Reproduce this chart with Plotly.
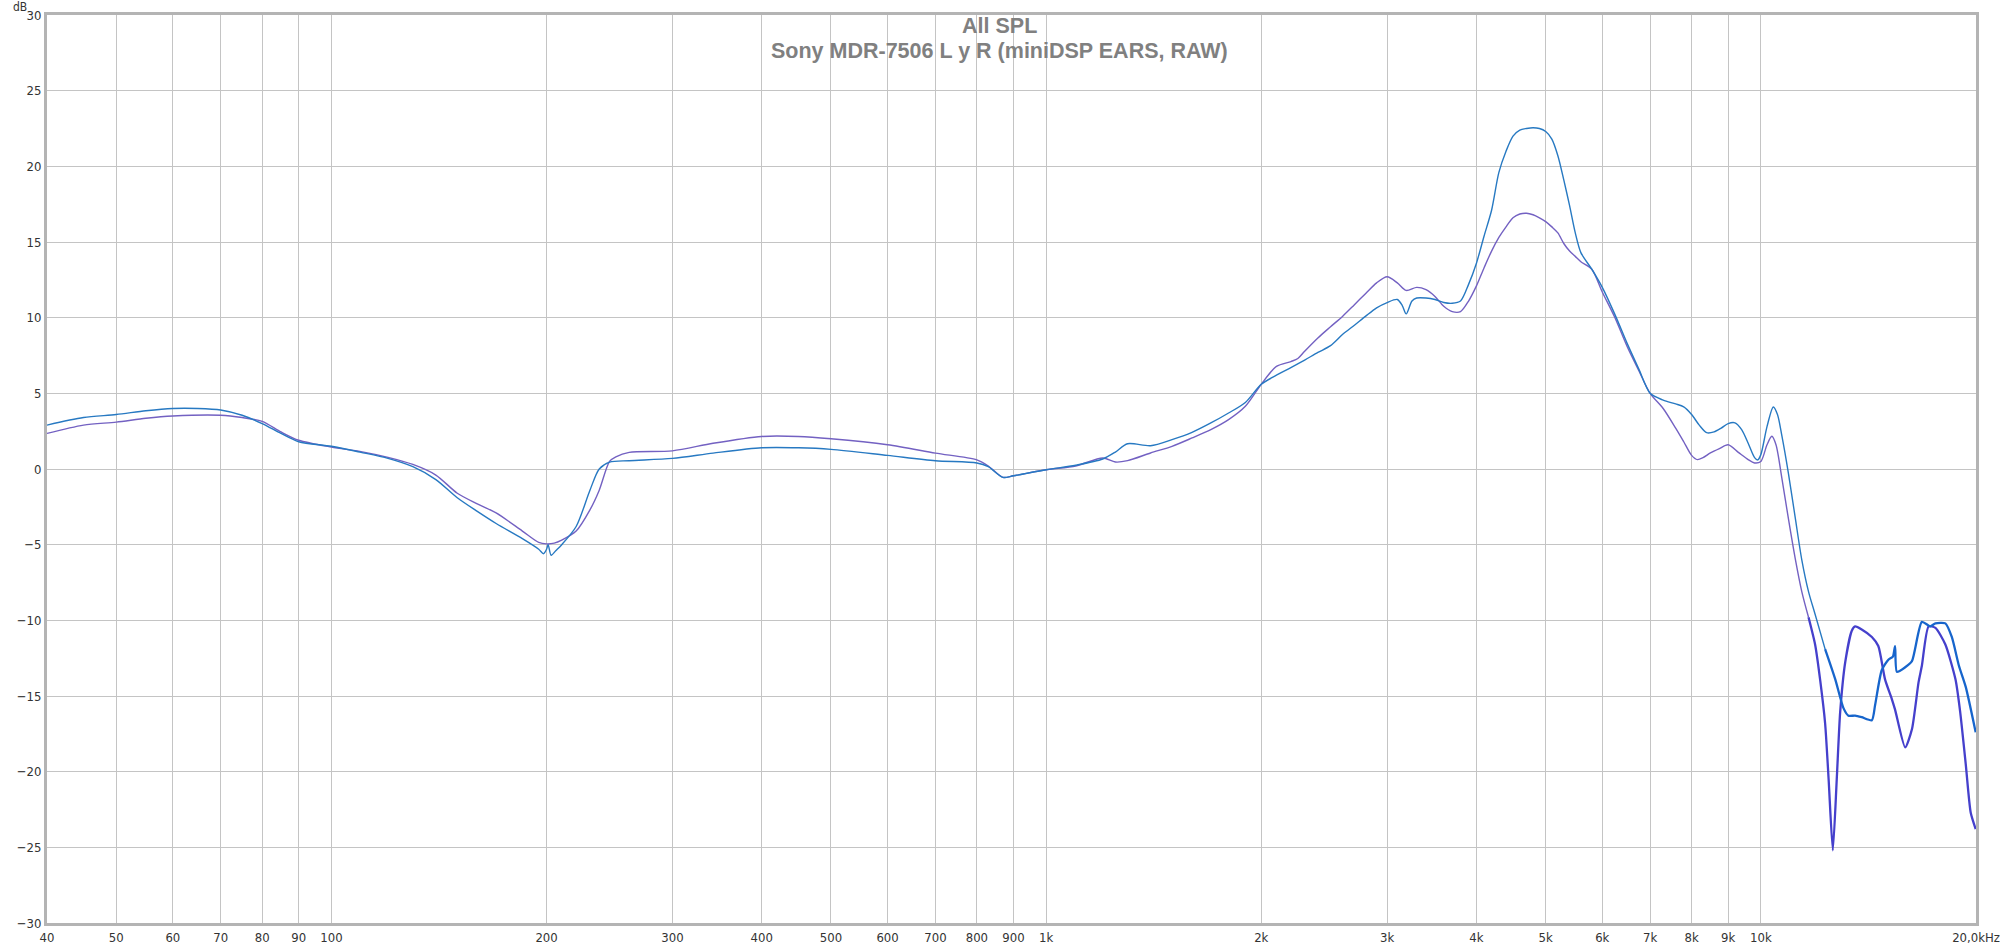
import numpy as np
import plotly.graph_objects as go

# blue trace (upper peak at 4.7 kHz)
blue_hz = [40, 45, 50, 55, 60, 65, 70, 75, 80, 85, 90, 100, 110, 120, 130, 140, 150, 160, 170, 185,
           195, 198, 200, 201, 203, 206, 210, 220, 230, 237, 245, 261, 300, 342, 400, 450, 500, 600,
           700, 800, 830, 870, 900, 1000, 1100, 1200, 1250, 1300, 1400, 1500, 1600, 1700, 1800, 1900,
           2000, 2100, 2200, 2300, 2400, 2500, 2600, 2700, 2800, 2900, 3000, 3100, 3150, 3190, 3250,
           3300, 3400, 3500, 3600, 3700, 3800, 3900, 4000, 4100, 4200, 4300, 4400, 4500, 4600, 4700,
           4800, 4900, 5000, 5100, 5200, 5300, 5400, 5500, 5600, 5800, 6000, 6250, 6500, 6750, 7000,
           7300, 7600, 7800, 8000, 8200, 8400, 8600, 8800, 9000, 9200, 9400, 9600, 9800, 9900, 10000,
           10200, 10410, 10550, 10700, 10930, 11170, 11410, 11660, 11910, 12300, 12710, 13050, 13260,
           13550, 13840, 14300, 14450, 14760, 15080, 15300, 15410, 15500, 15920, 16270, 16800, 17260,
           17550, 18120, 18500, 18930, 19350, 19980]
blue_db = [2.9, 3.4, 3.6, 3.85, 4.0, 4.0, 3.9, 3.55, 3.0, 2.35, 1.8, 1.5, 1.1, 0.7, 0.15, -0.7, -1.9,
           -2.8, -3.6, -4.6, -5.3, -5.6, -5.3, -5.0, -5.7, -5.4, -5.0, -3.8, -1.4, 0.0, 0.45, 0.55, 0.7,
           1.05, 1.4, 1.4, 1.3, 0.9, 0.55, 0.4, 0.15, -0.55, -0.45, -0.05, 0.25, 0.66, 1.12, 1.67, 1.54,
           1.94, 2.42, 3.04, 3.7, 4.4, 5.6, 6.2, 6.7, 7.2, 7.7, 8.15, 8.9, 9.5, 10.1, 10.65, 11.0, 11.2,
           10.8, 10.25, 11.1, 11.3, 11.3, 11.2, 11.0, 10.95, 11.1, 12.2, 13.6, 15.4, 17.1, 19.6, 21.0,
           22.0, 22.4, 22.5, 22.55, 22.5, 22.3, 21.8, 20.7, 19.1, 17.4, 15.6, 14.3, 13.2, 12.0, 10.2,
           8.3, 6.6, 5.0, 4.55, 4.3, 4.1, 3.6, 2.9, 2.4, 2.45, 2.7, 3.0, 3.05, 2.6, 1.7, 0.75, 0.6, 0.95,
           2.8, 4.1, 3.6, 2.2, -0.3, -3.2, -6.0, -8.1, -9.6, -11.9, -13.9, -15.8, -16.3, -16.3, -16.4,
           -16.6, -15.6, -13.3, -12.6, -12.4, -11.7, -13.4, -13.1, -12.7, -10.1, -10.4, -10.2, -10.2,
           -11.1, -13.0, -14.4, -17.4]

# purple trace
purple_hz = [40, 45, 50, 55, 60, 70, 75, 80, 85, 90, 100, 110, 120, 130, 140, 150, 160, 170, 185, 195,
             200, 205, 210, 220, 230, 237, 245, 250, 261, 300, 342, 400, 450, 500, 600, 700, 800, 830,
             870, 900, 1000, 1100, 1200, 1250, 1300, 1400, 1500, 1600, 1700, 1800, 1900, 2000, 2100,
             2200, 2250, 2300, 2400, 2500, 2600, 2700, 2800, 2900, 3000, 3100, 3190, 3300, 3400, 3500,
             3600, 3700, 3800, 3900, 4000, 4100, 4200, 4300, 4400, 4500, 4600, 4700, 4800, 4900, 5000,
             5100, 5200, 5300, 5400, 5500, 5600, 5800, 6000, 6250, 6500, 6750, 7000, 7300, 7600, 7800,
             8000, 8150, 8300, 8500, 8750, 9000, 9300, 9600, 9800, 10000, 10200, 10360, 10500, 10700,
             10930, 11170, 11410, 11660, 11910, 12110, 12300, 12440, 12610, 12770, 12910, 13120, 13400,
             13550, 13840, 14300, 14600, 14920, 15250, 15410, 15920, 16270, 16620, 16800, 17170, 17550,
             18120, 18720, 19000, 19350, 19660, 19980]
purple_db = [2.35, 2.9, 3.1, 3.35, 3.5, 3.55, 3.4, 3.15, 2.45, 1.9, 1.45, 1.15, 0.77, 0.3, -0.4, -1.6,
             -2.3, -2.9, -4.1, -4.85, -4.95, -4.9, -4.7, -4.1, -2.7, -1.4, 0.5, 0.8, 1.1, 1.2, 1.7, 2.15,
             2.15, 2.0, 1.6, 1.05, 0.6, 0.2, -0.55, -0.45, -0.05, 0.2, 0.73, 0.46, 0.55, 1.06, 1.5, 2.05,
             2.6, 3.26, 4.14, 5.6, 6.78, 7.1, 7.3, 7.78, 8.66, 9.4, 10.1, 10.86, 11.6, 12.3, 12.7, 12.3,
             11.8, 12.0, 11.85, 11.4, 10.75, 10.4, 10.4, 11.1, 12.1, 13.3, 14.4, 15.3, 16.0, 16.6, 16.85,
             16.9, 16.8, 16.6, 16.35, 16.0, 15.6, 14.9, 14.4, 14.05, 13.7, 13.2, 11.7, 10.0, 8.1, 6.5,
             5.0, 4.0, 2.7, 1.8, 0.9, 0.62, 0.75, 1.06, 1.35, 1.6, 1.1, 0.62, 0.4, 0.5, 1.6, 2.16, 1.6,
             -0.6, -3.3, -5.9, -8.1, -9.8, -11.6, -14.0, -16.8, -20.5, -25.2, -20.5, -16.1, -12.8,
             -10.7, -10.4, -10.6, -11.1, -11.7, -13.9, -15.2, -15.9, -18.4, -17.2, -14.1, -13.0, -10.4,
             -10.5, -11.6, -13.9, -16.0, -19.5, -22.7, -23.8]

x_ticks = [40, 50, 60, 70, 80, 90, 100, 200, 300, 400, 500, 600, 700, 800, 900,
           1000, 2000, 3000, 4000, 5000, 6000, 7000, 8000, 9000, 10000, 20000]
x_labels = ["40", "50", "60", "70", "80", "90", "100", "200", "300", "400", "500", "600", "700",
            "800", "900", "1k", "2k", "3k", "4k", "5k", "6k", "7k", "8k", "9k", "10k", "20,0kHz"]
decades = [100, 1000, 10000]

TICK_FONT = dict(family="Liberation Sans Narrow, Arial Narrow, DejaVu Sans Condensed, sans-serif",
                 size=13, color="#333333")
TITLE_FONT = dict(family="Liberation Sans, Arial, sans-serif", size=21.5, color="#808080")

fig = go.Figure()

bh, bd = np.array(blue_hz), np.array(blue_db)
ph, pd_ = np.array(purple_hz), np.array(purple_db)

# thin part and the noisier (thicker) top end
fig.add_trace(go.Scatter(x=ph[ph <= 11700], y=pd_[ph <= 11700], mode="lines",
                         line=dict(color="#7361c2", width=1.4, shape="spline", smoothing=0.8),
                         showlegend=False))
fig.add_trace(go.Scatter(x=ph[ph >= 11660], y=pd_[ph >= 11660], mode="lines",
                         line=dict(color="#4540cc", width=2.3, shape="spline", smoothing=0.6),
                         showlegend=False))
fig.add_trace(go.Scatter(x=bh[bh <= 12400], y=bd[bh <= 12400], mode="lines",
                         line=dict(color="#2779c2", width=1.4, shape="spline", smoothing=0.8),
                         showlegend=False))
fig.add_trace(go.Scatter(x=bh[bh >= 12300], y=bd[bh >= 12300], mode="lines",
                         line=dict(color="#1765cc", width=2.3, shape="spline", smoothing=0.6),
                         showlegend=False))

# darker decade lines
for d in decades:
    fig.add_shape(type="line", xref="x", yref="paper", x0=np.log10(d), x1=np.log10(d),
                  y0=0, y1=1, line=dict(color="#8c8c8c", width=1), layer="below")

fig.add_annotation(text="<b>All SPL</b>", xref="paper", yref="paper", x=0.494, y=0.988,
                   xanchor="center", yanchor="middle", showarrow=False, font=TITLE_FONT)
fig.add_annotation(text="<b>Sony MDR-7506 L y R (miniDSP EARS, RAW)</b>", xref="paper",
                   yref="paper", x=0.494, y=0.960, xanchor="center", yanchor="middle",
                   showarrow=False, font=TITLE_FONT)
# axis unit, sits just above the top y label
fig.add_annotation(text="dB", xref="paper", yref="paper", x=-0.0098, xanchor="right", y=1.0,
                   yanchor="bottom", yshift=0, borderpad=0, showarrow=False,
                   font=dict(TICK_FONT, size=12))

fig.update_xaxes(type="log", range=[np.log10(40), np.log10(20000)], tickvals=x_ticks,
                 ticktext=x_labels, tickfont=TICK_FONT, showgrid=True, gridcolor="#c4c4c4",
                 gridwidth=1, showline=True, linecolor="#b4b4b4", linewidth=3, mirror=True,
                 ticks="", zeroline=False, automargin=False)
fig.update_yaxes(range=[-30, 30], dtick=5, tickfont=TICK_FONT, showgrid=True, gridcolor="#c4c4c4",
                 gridwidth=1, showline=True, linecolor="#b4b4b4", linewidth=3, mirror=True,
                 ticks="", zeroline=False, automargin=False)

fig.update_layout(width=2000, height=945, margin=dict(l=47, r=24, t=15, b=22, autoexpand=False),
                  plot_bgcolor="white", paper_bgcolor="white")

fig.write_html("out.html", config={"displayModeBar": False},
               post_script="document.body.style.margin='0';")
